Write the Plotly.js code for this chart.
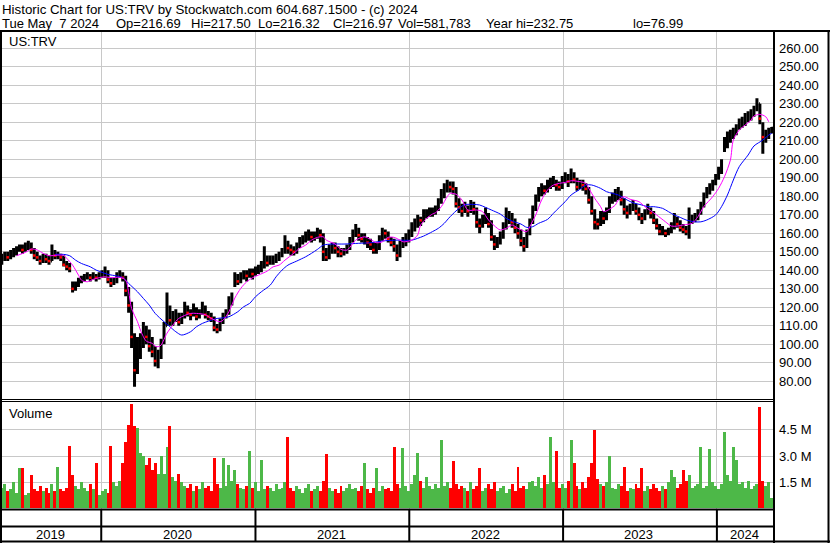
<!DOCTYPE html>
<html><head><meta charset="utf-8">
<script src="https://cdn.plot.ly/plotly-3.0.1.min.js"></script>
<style>html,body{margin:0;padding:0;background:#fff;}#chart{width:830px;height:543px;}</style>
</head><body><div id="chart"></div>
<script>
// ---------------- data (weekly bars) ----------------
const firstWeek = '2019-05-10';
const open = [
145,146,148,147,149,150,151,152,151,153,
154,151,148,147,145,147,146,145,150,148,
148,147,143,142,133,130,132,134,135,136,
137,136,137,136,137,138,139,135,133,134,
137,138,136,129,121,104,86,99,100,108,
104,99,96,91,94,101,110,120,113,114,
116,112,115,119,117,116,119,115,117,120,
116,115,114,109,108,112,115,117,124,132,
135,134,137,138,137,139,138,140,141,143,
146,144,145,146,147,148,150,155,152,151,
150,153,156,157,158,160,158,159,160,159,
150,147,151,153,152,150,149,150,152,156,
160,162,159,157,157,155,154,151,152,157,
161,160,157,155,153,148,154,155,157,160,
163,166,168,167,170,171,171,172,173,177,
181,184,186,185,184,176,174,172,174,172,
175,173,166,164,167,170,165,158,154,156,
158,163,167,170,166,163,160,156,153,160,
166,173,179,182,184,183,186,187,188,186,
185,189,190,188,191,189,185,187,186,184,
178,172,166,165,170,168,172,178,180,180,
182,178,173,171,174,175,172,170,168,171,
173,171,167,164,161,161,160,161,163,168,
165,163,162,161,166,168,169,171,175,180,
183,185,187,190,193,205,208,212,213,214,
217,219,220,222,223,224,227,230,219,212,
214,216.69];
const high = [
149,150,150,151,152,153,154,154,155,156,
155,152,150,148,149,149,148,154,151,150,
149,148,145,144,134,134,136,137,138,139,
138,139,138,139,140,142,140,136,136,139,
140,139,137,131,123,106,104,106,112,110,
108,104,99,97,103,112,128,121,118,119,
117,117,123,121,119,122,120,119,123,121,
118,117,115,111,114,117,119,126,128,139,
138,139,140,140,141,141,142,143,145,153,
148,148,148,149,150,152,159,156,154,153,
155,158,159,161,162,161,161,163,162,160,
152,154,155,155,153,152,152,154,158,162,
165,163,160,160,158,157,155,155,159,163,
162,161,158,157,154,156,158,160,162,166,
168,170,169,173,173,174,174,175,179,184,
187,189,188,188,185,179,176,177,175,178,
177,174,168,170,174,171,167,159,158,161,
166,174,172,171,168,165,162,158,162,168,
175,181,185,187,186,189,190,191,189,188,
191,193,192,195,193,190,189,189,187,185,
180,173,168,172,172,174,180,182,184,185,
183,179,175,176,178,176,174,171,173,176,
174,172,168,165,164,162,163,166,171,169,
167,165,164,174,170,171,173,177,182,185,
187,189,192,196,200,212,215,216,217,219,
222,223,225,226,227,229,233,230,220,216,
217,217.5];
const low = [
143,145,145,146,147,148,150,149,150,151,
149,146,145,143,144,144,143,145,146,146,
145,142,140,139,128,129,131,133,134,135,
134,135,134,135,136,136,133,131,132,133,
136,134,126,117,98,77,84,92,98,100,
96,93,88,87,92,100,110,110,110,112,
110,111,114,115,113,115,113,114,116,114,
113,112,107,106,107,111,114,116,121,131,
132,133,135,134,136,135,137,138,139,141,
142,143,143,144,145,147,149,149,148,148,
149,152,154,155,156,155,156,157,155,145,
145,146,149,149,147,147,148,149,151,155,
158,156,155,154,152,151,149,149,151,156,
157,155,153,150,145,147,152,153,155,158,
161,163,164,166,168,169,169,170,172,176,
179,182,182,181,174,171,169,171,169,171,
170,163,160,163,165,163,156,151,152,154,
157,162,165,163,160,157,153,150,152,159,
165,172,177,180,181,182,184,185,183,183,
184,187,185,187,187,183,184,183,181,176,
170,162,162,164,165,167,171,176,177,178,
175,170,168,170,172,170,167,165,167,170,
168,165,162,159,159,158,159,160,162,163,
161,160,159,157,165,166,167,170,174,179,
181,183,186,189,192,204,206,209,211,213,
216,217,218,220,221,223,226,219,203,209,
211,214];
const close = [
146,148,147,149,150,151,152,151,153,154,
151,148,147,145,147,146,145,150,148,148,
147,143,142,141,130,132,134,135,136,137,
136,137,136,137,138,139,135,133,134,137,
138,136,129,121,104,86,99,100,108,104,
99,96,91,94,101,110,120,113,114,116,
112,115,119,117,116,119,115,117,120,116,
115,114,109,108,112,115,117,124,126,135,
134,137,138,137,139,138,140,141,143,146,
144,145,146,147,148,150,155,152,151,150,
153,156,157,158,160,158,159,160,159,150,
147,151,153,152,150,149,150,152,156,160,
162,159,157,157,155,154,151,152,157,161,
160,157,155,153,148,154,155,157,160,163,
166,168,167,170,171,171,172,173,177,181,
184,186,185,184,176,174,172,174,172,175,
173,166,164,167,170,165,158,154,156,158,
163,167,170,166,163,160,156,153,160,166,
173,179,182,184,183,186,187,188,186,185,
189,190,188,191,189,185,187,186,184,178,
172,166,165,170,168,172,178,180,180,182,
178,173,171,174,175,172,170,168,171,173,
171,167,164,161,161,160,161,163,168,165,
163,162,161,166,168,169,171,175,180,183,
185,187,190,193,197,208,212,213,214,217,
219,220,222,223,224,227,230,222,212,214,
215,216.97];
const volumeM = [
1.2,1.4,1.0,1.1,1.5,0.9,2.3,2.3,0.8,0.9,
1.9,1.1,1.0,1.3,1.0,1.2,0.9,1.4,1.0,2.4,
1.1,1.0,1.2,3.6,1.9,1.3,1.1,1.5,1.2,1.0,
1.4,1.1,2.6,0.8,1.0,1.1,0.9,3.6,1.5,1.3,
1.6,2.6,3.8,4.8,6.0,4.7,4.6,3.2,3.0,2.5,
2.9,2.2,2.6,2.0,3.0,2.0,3.5,4.75,1.8,1.6,
2.0,1.5,1.3,1.2,1.4,1.0,1.3,1.1,1.5,1.2,
1.3,1.0,2.9,1.4,1.2,2.9,1.3,2.5,1.6,2.2,
1.4,1.2,1.1,1.3,3.3,1.2,1.5,1.0,2.8,1.1,
1.3,1.2,1.0,1.4,1.1,1.2,1.5,4.1,1.2,1.0,
1.3,1.1,0.9,1.2,1.4,1.0,1.1,1.3,1.0,1.6,
3.1,1.2,1.0,1.1,0.9,1.3,1.0,1.2,1.4,1.1,
1.2,1.0,1.3,2.6,1.1,0.9,1.2,2.3,1.0,1.3,
1.1,1.2,1.0,3.5,1.4,1.2,3.45,1.3,1.0,1.4,
1.9,3.2,1.6,1.2,1.8,1.3,1.1,1.4,1.2,3.9,
1.3,1.5,1.2,2.7,1.4,1.1,1.3,1.2,1.0,1.5,
1.1,1.3,2.3,1.0,1.2,1.4,1.1,1.5,1.0,1.2,
1.3,0.9,1.1,1.4,1.0,2.4,1.2,1.3,1.1,1.5,
1.6,1.3,1.8,1.2,1.9,1.4,4.1,1.5,3.3,1.2,
1.4,1.2,1.6,3.9,2.6,1.3,1.1,1.5,1.2,1.8,
2.6,4.5,1.7,1.4,1.3,1.5,3.0,1.2,1.1,1.4,
1.3,2.4,1.0,1.2,1.1,1.4,1.2,2.3,1.0,1.3,
1.1,1.4,1.2,1.0,1.3,1.1,1.5,2.2,1.8,1.2,
1.4,2.2,1.6,1.9,1.2,1.3,1.4,3.5,1.2,1.3,
3.4,1.5,1.3,1.1,1.4,4.4,1.9,1.6,3.5,2.8,
1.4,1.5,1.2,1.6,1.1,1.3,1.4,5.8,1.6,1.3,
1.5,0.58];
// moving averages (week index, value)
const magentaWeek = [5,8,10,12,14,16,19,21,22,24,26,27,29,31,33,35,37,40,42,43,44,46,47,48,49,51,52,53,54,56,58,60,64,66,69,71,74,75,77,79,81,83,85,87,90,92,94,96,99,101,103,105,107,109,110,113,115,117,118,120,123,125,127,129,131,133,135,136,139,141,142,144,146,147,149,151,152,154,156,158,161,163,165,168,169,171,173,175,178,179,181,183,185,187,189,191,193,196,198,199,201,203,204,206,208,209,211,213,216,218,220,222,225,227,229,231,234,236,238,241,243,245,247,248,250,252,254,255,257,259,260];
const magentaValue = [147.9,149.7,151.5,151,149.2,147.9,148.2,148,146.5,142.8,137.4,134.7,133.8,135.1,136,136.5,136,136.2,134.7,128.4,119.4,112.2,107.7,104.1,101.7,100.5,99,98.7,99.6,106,110.4,114,116.7,116.7,116,114,112.2,113,117.6,125,130.2,133.8,136,137.4,139.6,141.9,142.8,145.5,149.2,151.9,153.6,156.3,157.8,158.1,156.3,154.2,151.3,150.9,152.4,156.3,158.1,156.7,154.9,155.4,157.8,157.8,156.3,155.4,156.3,159.1,164.5,168.1,170.4,171.1,174.4,179.8,181.6,181.1,178,172.6,172.6,171.7,167.2,162.7,161.8,162.7,164.5,162.7,160.9,163.6,169.9,178,183.4,186.1,187,187.5,188.4,187.9,187,184.3,178.9,174.4,171.7,173,175.3,178,179.8,178.4,177.1,174.4,172.2,169.9,166.2,163.9,163.9,164.5,165.4,169,174.4,179.8,184.3,190.6,199.6,210.4,215.8,218.5,221.2,223.4,224.3,223,220.3];
const blueWeek = [18,21,23,25,27,30,32,34,36,39,41,43,46,48,50,52,55,57,59,61,64,66,68,70,73,75,77,80,82,84,86,88,91,93,95,97,100,103,105,107,109,112,116,121,125,130,134,139,141,143,146,148,150,152,155,157,160,162,164,166,169,171,173,176,178,180,182,185,187,189,191,193,196,198,200,203,205,207,209,212,214,217,219,221,224,226,228,230,232,235,237,239,242,244,246,248,250,253,255,258,260,261];
const blueValue = [148.6,148.6,147.9,145.5,143.7,141.9,140.1,138.9,137.8,136.9,136,132.9,128.4,124.8,121.2,116.7,112.2,109.5,106.8,105,106.8,109.5,111.3,112.5,114,114.3,114.9,117.6,120.3,122.1,125.7,128.4,132,136.5,140.1,142.8,145,147.3,149.2,151.3,153.6,154.2,154.2,154.6,154.9,156,156.3,156.3,157.3,158.5,160.9,162.7,165.4,169,173.5,175.5,175.6,175.3,174,172.6,170.4,168.1,166.6,165,163.2,163.6,165.4,167.5,170.8,174,177.1,180.7,183.8,186.1,186.1,184.3,182.5,181.6,180.7,178,176.5,175.3,174.4,174.4,173.5,171.7,169.9,168.6,167.2,166.2,166.2,167.2,169.9,174.4,180.7,188.8,196,202.3,207.2,210.4,213.1,214];
const priceTicks = [80,90,100,110,120,130,140,150,160,170,180,190,200,210,220,230,240,250,260];
const volumeTicks = [1.5,3.0,4.5];
const volumeTickText = ['1.5 M','3.0 M','4.5 M'];
const years = ['2019','2020','2021','2022','2023','2024'];
const yearStarts = ['2020-01-01','2021-01-01','2022-01-01','2023-01-01','2024-01-01'];
const headerLine1 = 'Historic Chart for US:TRV by Stockwatch.com 604.687.1500 - (c) 2024';
const headerLine2 = ['Tue May\u00a0\u00a07 2024','Op=216.69','Hi=217.50','Lo=216.32','Cl=216.97','Vol=581,783','Year hi=232.75','lo=76.99'];
const symbolLabel = 'US:TRV';
const volumeLabel = 'Volume';

// ---------------- layout helpers ----------------
const W = 830, H = 543, ML = 2, MR = 56, MT = 31, MB = 34;
const PW = W - ML - MR, PH = H - MT - MB;
const PX = p => (p - ML) / PW;
const PY = p => (H - MB - p) / PH;
const xStart = '2019-05-10 12:00', xEnd = '2024-05-15 12:00';
const DAY = 86400000;
const t0 = Date.UTC(2019, 4, 10);
const iso = ms => new Date(ms).toISOString().slice(0, 10);
const dates = close.map((_, k) => iso(t0 + 7 * k * DAY));

const FONT = '"Liberation Sans", Arial, sans-serif';
const GRID = '#c8c8c8';

const volColors = close.map((c, k) => (k === 0 ? c >= open[k] : c >= close[k - 1]) ? '#4db848' : '#ff0000');
const downIdx = close.map((c, k) => k).filter(k => close[k] < open[k]);

const traces = [
  {type: 'ohlc', x: dates, open: open, high: high, low: low, close: close,
   xaxis: 'x', yaxis: 'y', tickwidth: 0.3, hoverinfo: 'skip',
   increasing: {line: {color: '#000', width: 3}},
   decreasing: {line: {color: '#000', width: 3}}},
  {type: 'scatter', mode: 'markers', x: downIdx.map(k => dates[k]), y: downIdx.map(k => close[k]),
   xaxis: 'x', yaxis: 'y', marker: {color: '#ff0000', size: 2.5, symbol: 'square', line: {width: 0}}, hoverinfo: 'skip'},
  {type: 'scatter', mode: 'lines', x: blueWeek.map(k => dates[k]), y: blueValue,
   xaxis: 'x', yaxis: 'y', line: {color: '#0000ff', width: 1, shape: 'spline', smoothing: 0.8}, hoverinfo: 'skip'},
  {type: 'scatter', mode: 'lines', x: magentaWeek.map(k => dates[k]), y: magentaValue,
   xaxis: 'x', yaxis: 'y', line: {color: '#ff00ff', width: 1, shape: 'spline', smoothing: 0.8}, hoverinfo: 'skip'},
  {type: 'bar', x: dates, y: volumeM.map(v => v * 1e6), xaxis: 'x2', yaxis: 'y2',
   width: 7 * DAY, marker: {color: volColors, line: {width: 0}}, hoverinfo: 'skip'}
];

const line = (x0, y0, x1, y1, w) => ({type: 'line', xref: 'paper', yref: 'paper',
  x0: PX(x0), y0: PY(y0), x1: PX(x1), y1: PY(y1), line: {color: '#000', width: w}});

const shapes = [
  line(0, 31, 830, 31, 2),        // under header
  line(1, 31, 1, 543, 2),         // left border
  line(774, 31, 774, 543, 2),     // right axis line
  line(828.5, 31, 828.5, 543, 2), // right border
  line(0, 399.5, 774, 399.5, 1),  // double separator
  line(0, 401.5, 774, 401.5, 1),
  line(0, 509.5, 774, 509.5, 2),
  line(0, 526.5, 774, 526.5, 2),
  line(0, 541.5, 830, 541.5, 2)
];
yearStarts.forEach(d => shapes.push({type: 'line', xref: 'x', yref: 'paper', x0: d, x1: d,
  y0: PY(509), y1: PY(542), line: {color: '#000', width: 2}}));

const annotations = [];
const ann = (text, x, y, size) => annotations.push({text: text, xref: 'paper', yref: 'paper',
  x: PX(x), y: PY(y), xanchor: 'left', yanchor: 'middle', showarrow: false, borderpad: 0,
  font: {family: FONT, size: size, color: '#000'}});
ann(headerLine1, 1, 9, 13.3);
const h2x = [1, 115, 190, 257, 332, 397, 485, 632];
headerLine2.forEach((t, i) => ann(t, h2x[i], 24, 13));
ann(symbolLabel, 8, 41.5, 13);
ann(volumeLabel, 8, 413, 13);

// year labels centred in each year's span
const spanStart = [xStart.slice(0, 10)].concat(yearStarts);
const spanEnd = yearStarts.concat(['2024-05-15']);
years.forEach((y, i) => {
  const a = Date.parse(spanStart[i]), b = Date.parse(spanEnd[i]);
  annotations.push({text: y, xref: 'x', yref: 'paper', x: iso((a + b) / 2 - 2 * DAY), y: PY(534.5),
    xanchor: 'center', yanchor: 'middle', showarrow: false, borderpad: 0,
    font: {family: FONT, size: 13, color: '#000'}});
});

const xCommon = {type: 'date', range: [xStart, xEnd], tickmode: 'array', tickvals: yearStarts,
  showticklabels: false, ticks: '', showgrid: true, gridcolor: GRID, gridwidth: 1,
  zeroline: false, showline: false, fixedrange: true};

const layout = {
  width: W, height: H, margin: {l: ML, r: MR, t: MT, b: MB, pad: 0},
  paper_bgcolor: '#fff', plot_bgcolor: '#fff', showlegend: false,
  font: {family: FONT, size: 13, color: '#000'},
  xaxis: Object.assign({}, xCommon, {domain: [0, 1], anchor: 'y', rangeslider: {visible: false}}),
  xaxis2: Object.assign({}, xCommon, {domain: [0, 1], anchor: 'y2', matches: 'x'}),
  yaxis: {domain: [PY(400), 1], range: [69.9, 269.35], side: 'right', anchor: 'x',
    tickmode: 'array', tickvals: priceTicks, ticktext: priceTicks.map(v => v.toFixed(2)),
    ticks: '', ticklabelstandoff: 4, showgrid: true, gridcolor: GRID, gridwidth: 1,
    zeroline: false, showline: false, tickfont: {family: FONT, size: 13, color: '#000'}, fixedrange: true},
  yaxis2: {domain: [0, PY(402)], range: [-0.03e6, 6.1e6], side: 'right', anchor: 'x2',
    tickmode: 'array', tickvals: volumeTicks.map(v => v * 1e6), ticktext: volumeTickText,
    ticks: '', ticklabelstandoff: 4, showgrid: true, gridcolor: GRID, gridwidth: 1,
    zeroline: false, showline: false, tickfont: {family: FONT, size: 13, color: '#000'}, fixedrange: true},
  bargap: 0,
  shapes: shapes,
  annotations: annotations
};

Plotly.newPlot('chart', traces, layout, {staticPlot: true, displayModeBar: false});
</script>
</body></html>
